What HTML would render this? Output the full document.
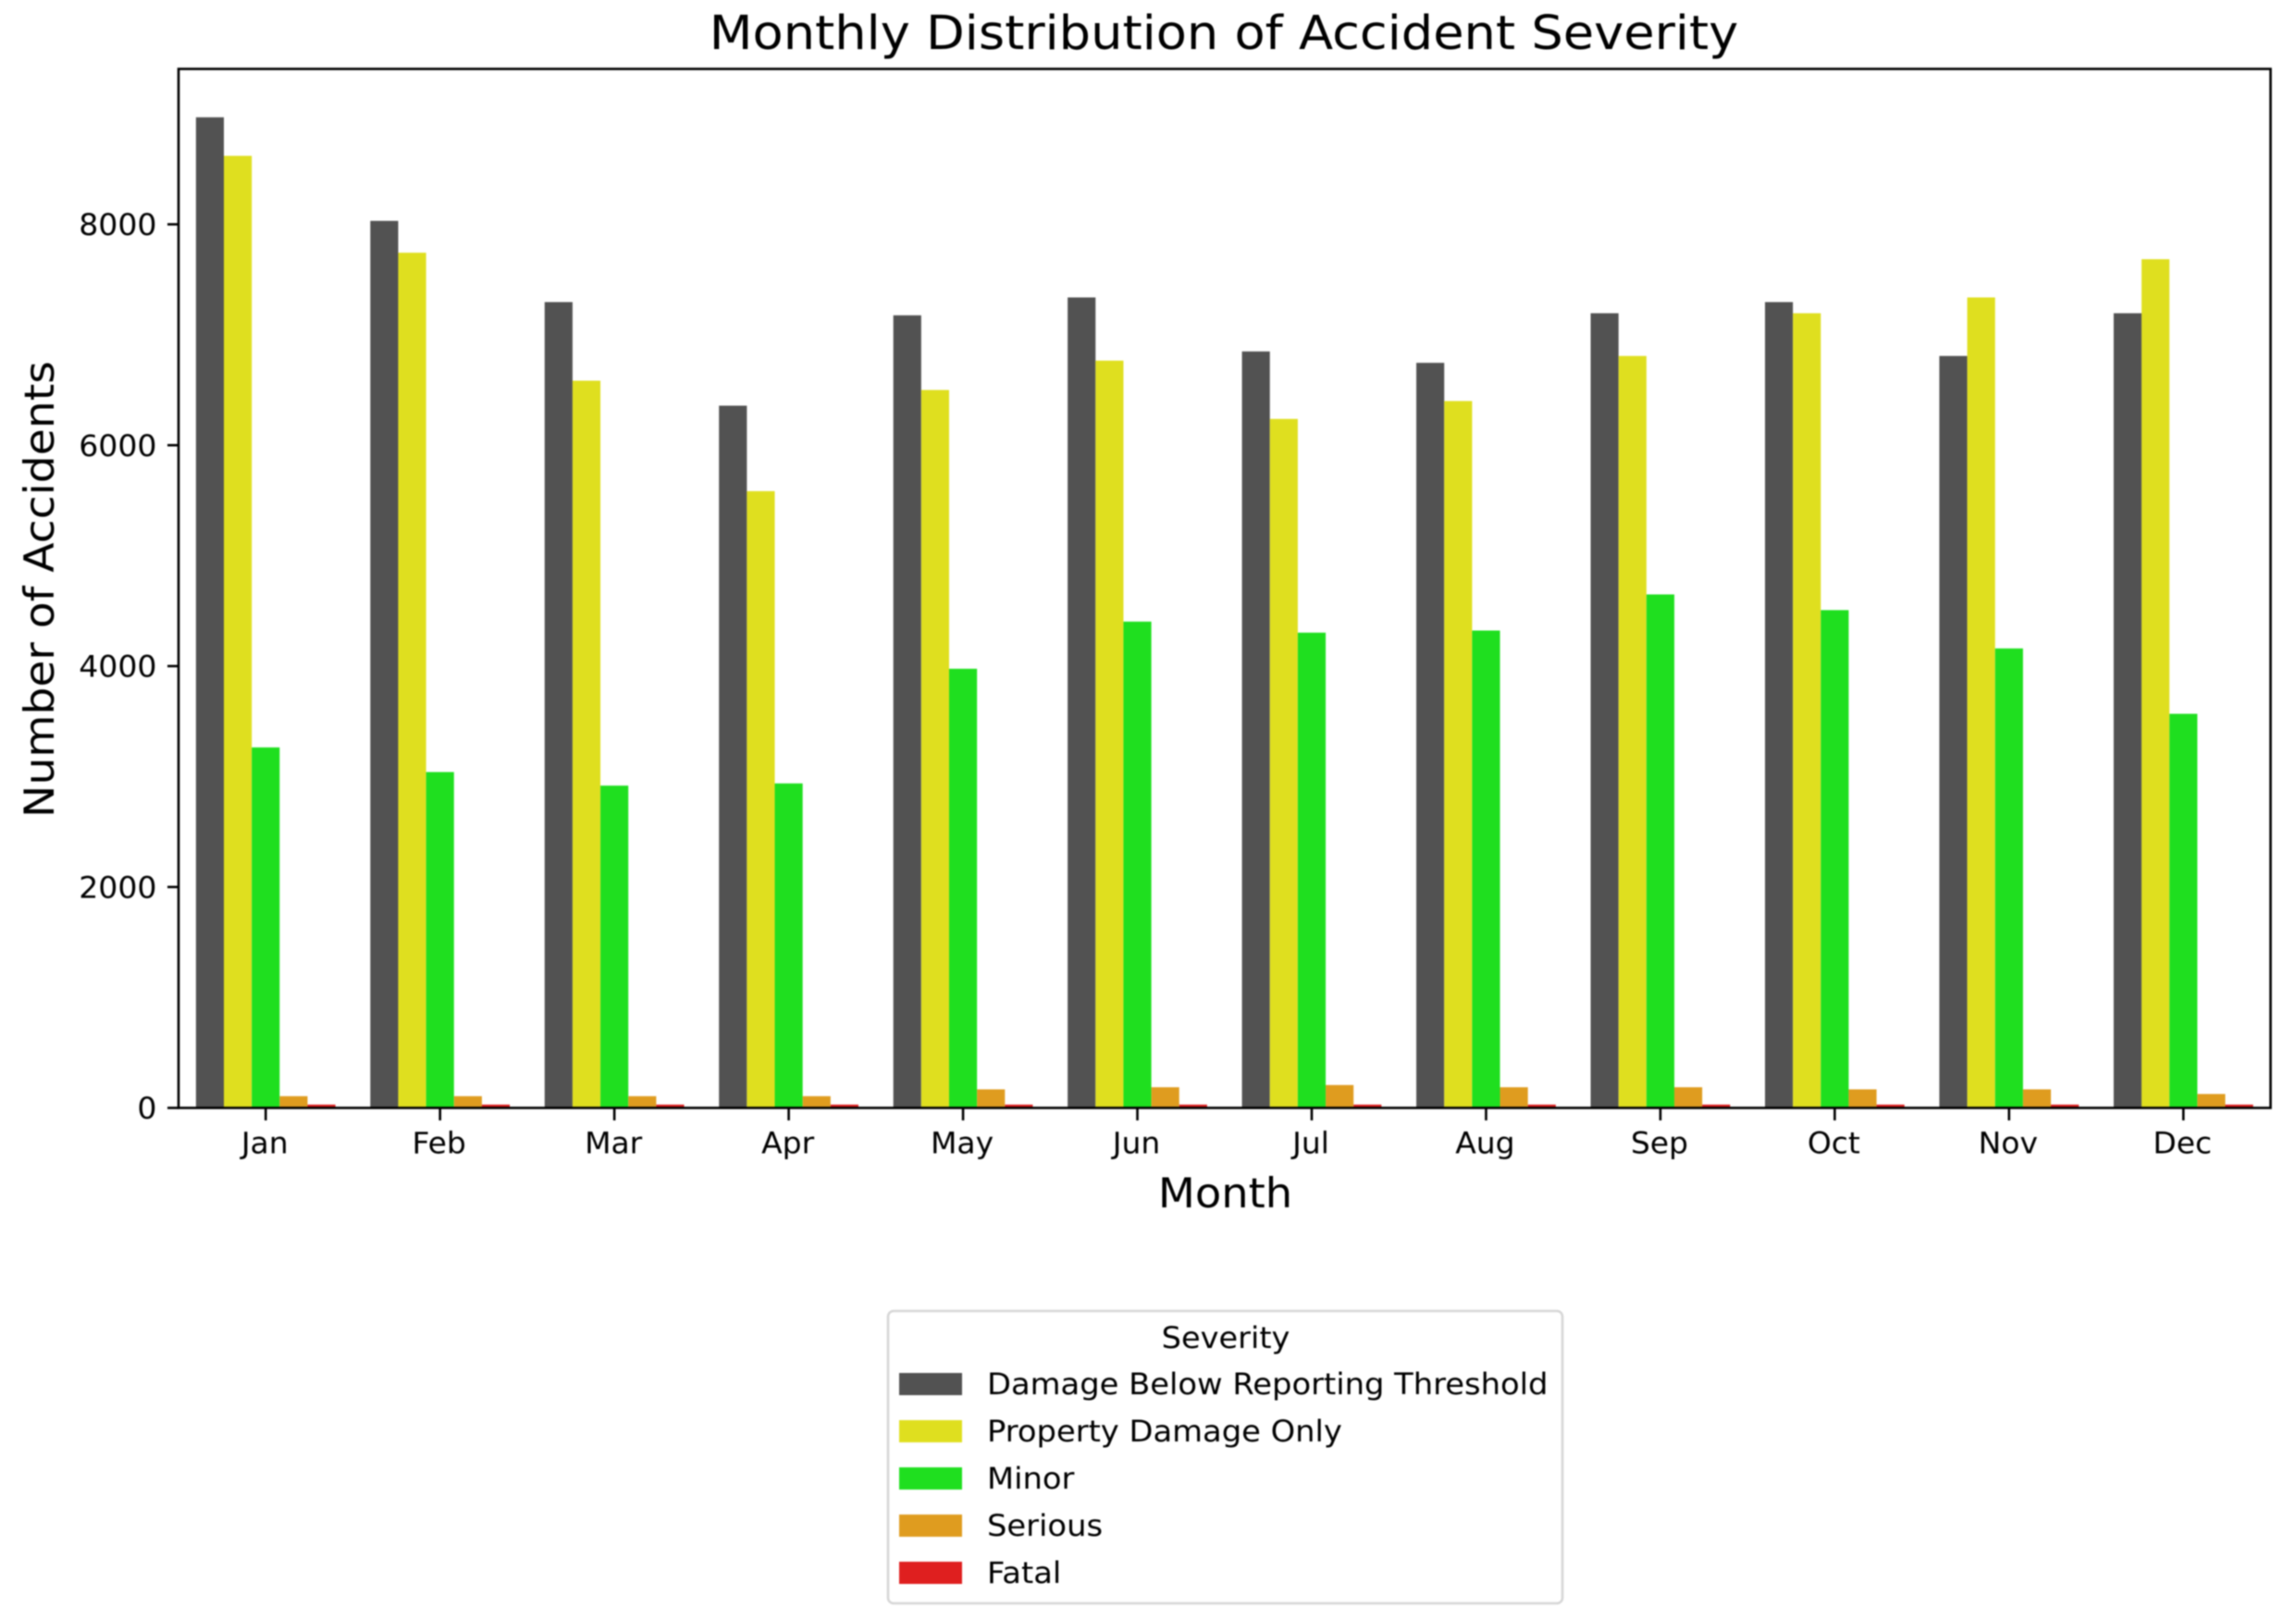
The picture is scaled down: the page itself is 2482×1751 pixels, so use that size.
<!DOCTYPE html>
<html lang="en">
<head>
<meta charset="utf-8">
<title>Monthly Distribution of Accident Severity</title>
<style>
html,body{margin:0;padding:0;background:#fff;}
svg{display:block;filter:blur(0.8px);}
text{font-family:"DejaVu Sans","Liberation Sans",sans-serif;fill:#000;}
</style>
</head>
<body>
<svg id="chart" xmlns="http://www.w3.org/2000/svg" width="2482" height="1751" viewBox="0 0 2482 1751">
  <rect x="0" y="0" width="2482" height="1751" fill="#ffffff"/>
  <g id="bars"></g>
  <g id="y-ticks"></g>
  <g id="x-ticks"></g>
  <rect x="193" y="74.5" width="2261.5" height="1123" fill="none" stroke="#000" stroke-width="2.6"/>
  <text transform="translate(1323 53) scale(1.059 1)" font-size="51.2" text-anchor="middle">Monthly Distribution of Accident Severity</text>
  <text transform="translate(1324.5 1305) scale(1.035 1)" font-size="44.8" text-anchor="middle">Month</text>
  <text transform="translate(58 637) rotate(-90) scale(1.054 1)" font-size="44.8" text-anchor="middle">Number of Accidents</text>
  <g id="legend">
    <rect x="960" y="1417" width="729" height="316" rx="6" ry="6" fill="#fff" stroke="#d6d6d6" stroke-width="2.6"/>
    <text transform="translate(1325 1457) scale(1.05 1)" font-size="32" text-anchor="middle">Severity</text>
  </g>
</svg>
<script>
const months = ["Jan","Feb","Mar","Apr","May","Jun","Jul","Aug","Sep","Oct","Nov","Dec"];
const severities = ["Damage Below Reporting Threshold","Property Damage Only","Minor","Serious","Fatal"];
const severityColors = ["#525252","#dfdf1f","#1fdf1f","#df9c1f","#df1f1f"];
const damageBelowThreshold = [8969,8031,7296,6358,7176,7338,6849,6746,7195,7296,6808,7195];
const propertyDamageOnly = [8620,7743,6584,5584,6500,6766,6238,6400,6808,7195,7338,7684];
const minor = [3264,3041,2918,2938,3976,4403,4303,4322,4649,4507,4160,3568];
const serious = [106,106,106,106,168,187,207,187,187,168,168,126];
const fatal = [30,30,30,30,30,30,30,30,30,30,30,30];
const seriesValues = [damageBelowThreshold,propertyDamageOnly,minor,serious,fatal];
const yTickValues = [0,2000,4000,6000,8000];

const NS = "http://www.w3.org/2000/svg";
const plotLeft = 193, plotRight = 2454.5, plotBottom = 1197.5, pxPerUnit = 0.11938;
const bandWidth = (plotRight - plotLeft) / months.length;
const barWidth = bandWidth * 0.8 / severities.length;

function xCenter(monthIndex){ return plotLeft + bandWidth * (monthIndex + 0.5); }
function xBar(monthIndex, seriesIndex){ return xCenter(monthIndex) - bandWidth * 0.4 + barWidth * seriesIndex; }
function yValue(value){ return plotBottom - value * pxPerUnit; }
function slug(label){ return label.toLowerCase().replace(/\s+/g, "-"); }
function make(tag, attrs, parent){
  const el = document.createElementNS(NS, tag);
  for (const key in attrs) el.setAttribute(key, attrs[key]);
  parent.appendChild(el);
  return el;
}

const barsGroup = document.getElementById("bars");
seriesValues.forEach(function(values, s){
  values.forEach(function(value, m){
    const bar = make("rect", {x:xBar(m,s), y:yValue(value), width:barWidth, height:plotBottom-yValue(value), fill:severityColors[s]}, barsGroup);
    
    
  });
});

const yTicksGroup = document.getElementById("y-ticks");
yTickValues.forEach(function(value){
  const tick = make("line", {x1:181, x2:plotLeft, y1:yValue(value), y2:yValue(value), stroke:"#000", "stroke-width":2.6}, yTicksGroup);
  
  
  const label = make("text", {transform:"translate(169.5 " + (yValue(value)+11.6) + ") scale(1.035 1)", "font-size":32, "text-anchor":"end"}, yTicksGroup);
  label.textContent = value;
  
  
});

const xTicksGroup = document.getElementById("x-ticks");
months.forEach(function(month, m){
  const tick = make("line", {x1:xCenter(m), x2:xCenter(m), y1:plotBottom, y2:1211, stroke:"#000", "stroke-width":2.6}, xTicksGroup);
  
  
  const label = make("text", {transform:"translate(" + (xCenter(m)-1) + " 1246.5) scale(1.03 1)", "font-size":32, "text-anchor":"middle"}, xTicksGroup);
  label.textContent = month;
  
  
});

const legendGroup = document.getElementById("legend");
severities.forEach(function(name, s){
  const swatch = make("rect", {x:972, y:1484+51*s, width:68, height:24, fill:severityColors[s]}, legendGroup);
  
  
  const label = make("text", {transform:"translate(1067 " + (1507+51*s) + ") scale(1.055 1)", "font-size":32}, legendGroup);
  label.textContent = name;
  
  
});
</script>
</body>
</html>
